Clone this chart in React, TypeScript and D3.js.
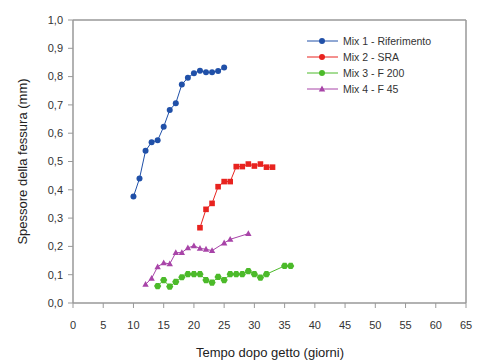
import React from "react";
import * as d3 from "d3";

const mix1Days = [10, 11, 12, 13, 14, 15, 16, 17, 18, 19, 20, 21, 22, 23, 24, 25];
const mix1Vals = [0.376, 0.44, 0.538, 0.568, 0.575, 0.623, 0.682, 0.706, 0.772, 0.796, 0.812, 0.821, 0.815, 0.815, 0.82, 0.832];

const mix2Days = [21, 22, 23, 24, 25, 26, 27, 28, 29, 30, 31, 32, 33];
const mix2Vals = [0.266, 0.331, 0.352, 0.411, 0.429, 0.429, 0.482, 0.482, 0.491, 0.484, 0.491, 0.48, 0.48];

const mix3Days = [14, 15, 16, 17, 18, 19, 20, 21, 22, 23, 24, 25, 26, 27, 28, 29, 30, 31, 32, 35, 36];
const mix3Vals = [0.06, 0.081, 0.058, 0.075, 0.091, 0.102, 0.102, 0.102, 0.081, 0.072, 0.092, 0.081, 0.102, 0.102, 0.102, 0.113, 0.102, 0.09, 0.102, 0.131, 0.131];

const mix4Days = [12, 13, 14, 15, 16, 17, 18, 19, 20, 21, 22, 23, 25, 26, 29];
const mix4Vals = [0.066, 0.087, 0.128, 0.142, 0.138, 0.178, 0.178, 0.195, 0.202, 0.193, 0.19, 0.185, 0.212, 0.225, 0.245];

const seriesNames = ["Mix 1 - Riferimento", "Mix 2 - SRA", "Mix 3 - F 200", "Mix 4 - F 45"];
const seriesColors = ["#2050a8", "#e8231f", "#4cba2a", "#a844a8"];
const seriesShapes = ["circle", "square", "hex", "triangle"];

const xTicks = d3.range(0, 66, 5);
const yTicks = d3.range(0, 1.01, 0.1);

const W = 477, H = 361;
const x = d3.scaleLinear().domain([0, 65]).range([73, 466]);
const y = d3.scaleLinear().domain([0, 1]).range([303, 20]);

function Marker({ shape, cx, cy, color }: { shape: string; cx: number; cy: number; color: string }) {
  if (shape === "circle") return <circle cx={cx} cy={cy} r={3} fill={color} />;
  if (shape === "square") return <rect x={cx - 2.8} y={cy - 2.8} width={5.6} height={5.6} fill={color} />;
  if (shape === "hex") {
    const p = d3.range(6).map((i) => {
      const a = (Math.PI / 3) * i;
      return `${cx + 3.6 * Math.cos(a)},${cy + 3.6 * Math.sin(a)}`;
    });
    return <polygon points={p.join(" ")} fill={color} />;
  }
  return <polygon points={`${cx},${cy - 3.4} ${cx + 3.2},${cy + 2.4} ${cx - 3.2},${cy + 2.4}`} fill={color} />;
}

export default function App() {
  const data = [
    mix1Days.map((d, i) => [d, mix1Vals[i]]),
    mix2Days.map((d, i) => [d, mix2Vals[i]]),
    mix3Days.map((d, i) => [d, mix3Vals[i]]),
    mix4Days.map((d, i) => [d, mix4Vals[i]]),
  ];
  const line = d3.line<number[]>().x((d) => x(d[0])).y((d) => y(d[1]));
  const fmt = (v: number) => v.toFixed(1).replace(".", ",");
  const axisColor = "#999";
  const font = "Liberation Sans, Arial, sans-serif";
  return (
    <svg width={W} height={H} style={{ position: "absolute", left: 0, top: 0, background: "#fff" }} fontFamily={font}>
      {/* frame */}
      <line x1={x(0)} x2={x(65)} y1={y(1)} y2={y(1)} stroke={axisColor} strokeWidth={1.5} />
      <line x1={x(65)} x2={x(65)} y1={y(1)} y2={y(0)} stroke={axisColor} strokeWidth={1.5} />
      <line x1={x(0)} x2={x(0)} y1={y(1)} y2={y(0)} stroke={axisColor} strokeWidth={1.5} />
      <line x1={x(0)} x2={x(65)} y1={y(0)} y2={y(0)} stroke={axisColor} strokeWidth={1.5} />
      {yTicks.map((t) => (
        <g key={"y" + t}>
          <line x1={x(0) - 5} x2={x(0)} y1={y(t)} y2={y(t)} stroke={axisColor} strokeWidth={1} />
          <text x={63} y={y(t)} dy="0.35em" textAnchor="end" fontSize={11} fill="#333">{fmt(t)}</text>
        </g>
      ))}
      {xTicks.map((t) => (
        <g key={"x" + t}>
          <line x1={x(t)} x2={x(t)} y1={y(0)} y2={y(0) + 5} stroke={axisColor} strokeWidth={1} />
          <text x={x(t)} y={325} dy="0.35em" textAnchor="middle" fontSize={11} fill="#333">{t}</text>
        </g>
      ))}
      <text x={270} y={352} dy="0.35em" textAnchor="middle" fontSize={13} fill="#222">Tempo dopo getto (giorni)</text>
      <text transform={`translate(22,${y(0.5)}) rotate(-90)`} dy="0.35em" textAnchor="middle" fontSize={13} fill="#222">
        Spessore della fessura (mm)
      </text>
      {data.map((s, i) => (
        <g key={"s" + i}>
          <path d={line(s) || ""} fill="none" stroke={seriesColors[i]} strokeWidth={1} />
          {s.map((p, j) => (
            <Marker key={j} shape={seriesShapes[i]} cx={x(p[0])} cy={y(p[1])} color={seriesColors[i]} />
          ))}
        </g>
      ))}
      {seriesNames.map((n, i) => {
        const ly = 41 + i * 16;
        return (
          <g key={"l" + i}>
            <line x1={307} x2={338} y1={ly} y2={ly} stroke={seriesColors[i]} strokeWidth={1} />
            <Marker shape={i === 2 ? "circle" : i === 1 ? "circle" : seriesShapes[i]} cx={322} cy={ly} color={seriesColors[i]} />
            <text x={343} y={ly} dy="0.35em" fontSize={10.5} fill="#333">{n}</text>
          </g>
        );
      })}
    </svg>
  );
}
